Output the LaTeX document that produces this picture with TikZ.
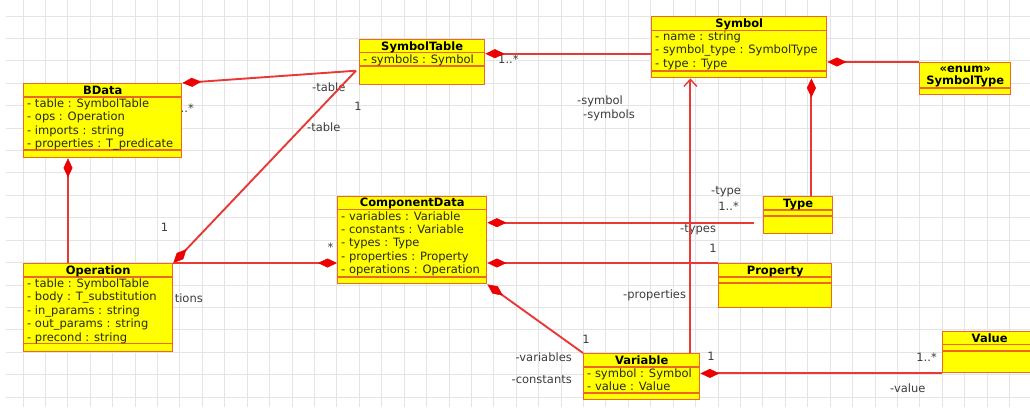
\documentclass[tikz,border=0pt]{standalone}
\usepackage{fontspec}
\setmainfont{DejaVu Sans}
\usetikzlibrary{arrows.meta,calc}
\definecolor{boxfill}{RGB}{255,255,0}
\definecolor{boxline}{RGB}{236,104,36}
\definecolor{assocred}{RGB}{232,56,56}
\definecolor{diared}{RGB}{236,0,0}
\definecolor{gridgray}{RGB}{228,228,228}
\definecolor{txt}{RGB}{40,40,40}
\definecolor{lbltext}{RGB}{60,60,60}
\newcommand\attrlist[3]{%
  \foreach \a [count=\i from 0] in {#3}{%
    \pgfmathsetmacro\dy{#2+13.4*\i}%
    \node[attr] (#1-a\i) at ([xshift=4pt,yshift=-\dy pt]#1.north west) {\a};}}
\begin{document}
\begin{tikzpicture}[x=1pt,y=-1pt,
  clsbox/.style={draw=boxline, fill=boxfill, line width=1.4pt, rectangle, inner sep=0pt, anchor=north west},
  sepline/.style={draw=boxline, line width=1.4pt},
  clstitle/.style={font=\bfseries\fontsize{11.5}{13}\selectfont, text=black, inner sep=0pt, anchor=base},
  attr/.style={font=\fontsize{11.5}{13}\selectfont, text=txt, inner sep=0pt, anchor=base west},
  lbl/.style={font=\fontsize{11.5}{13}\selectfont, text=lbltext, inner sep=0pt},
  gridline/.style={draw=gridgray, line width=0.9pt},
  assoc/.style={draw=assocred, line width=1.9pt},
  comp/.style={assoc, {Diamond[length=19pt,width=9pt,color=diared,line width=0.5pt]}-},
  nav/.style={assoc, -{Straight Barb[length=7pt,width=13pt,line width=1.4pt]}},
]
\useasboundingbox (0,0) rectangle (1030,407);
\clip (0,0) rectangle (1030,407);
\fill[white] (0,0) rectangle (1030,407);
% grid
\foreach \k in {0,...,44} \draw[gridline] (23+22.42*\k,0) -- (23+22.42*\k,407);
\foreach \k in {0,...,17} \draw[gridline] (6,16+22.42*\k) -- (1030,16+22.42*\k);

% labels
\node[lbl, anchor=base east] (l1) at (194,112) {..*};
\node[lbl, anchor=base west] (l2) at (312,91.5) {-table};
\node[lbl, anchor=base west] (l3) at (307,131) {-table};
\node[lbl, anchor=base] (l4) at (358,110) {1};
\node[lbl, anchor=base west] (l5) at (498,63) {1..*};
\node[lbl, anchor=base west] (l6) at (577,104) {-symbol};
\node[lbl, anchor=base west] (l7) at (583,118.5) {-symbols};
\node[lbl, anchor=base west] (l8) at (711,194.5) {-type};
\node[lbl, anchor=base east] (l9) at (739,210) {1..*};
\node[lbl, anchor=base west] (l10) at (680,232) {-types};
\node[lbl, anchor=base] (l11) at (713,252) {1};
\node[lbl, anchor=base west] (l12) at (623,298) {-properties};
\node[lbl, anchor=base] (l13) at (586,343) {1};
\node[lbl, anchor=base east] (l14) at (572,361.5) {-variables};
\node[lbl, anchor=base east] (l15) at (572,383) {-constants};
\node[lbl, anchor=base] (l16) at (711,360) {1};
\node[lbl, anchor=base east] (l17) at (937,361) {1..*};
\node[lbl, anchor=base west] (l18) at (890,392) {-value};
\node[lbl, anchor=base] (l19) at (164.5,231) {1};
\node[lbl, anchor=base] (l20) at (330.5,251) {*};
\node[lbl, anchor=base east] (l21) at (203,302.5) {tions};

% class boxes (outer shapes)
\node[clsbox, minimum width=158pt, minimum height=74pt] (bdata) at (23,83) {};
\node[clsbox, minimum width=125pt, minimum height=45pt] (symtab) at (359,39) {};
\node[clsbox, minimum width=175pt, minimum height=61pt] (sym) at (651,16) {};
\node[clsbox, minimum width=91pt, minimum height=32pt] (symtype) at (919,62) {};
\node[clsbox, minimum width=149pt, minimum height=88pt] (op) at (23,263) {};
\node[clsbox, minimum width=149pt, minimum height=87pt] (cd) at (337,196) {};
\node[clsbox, minimum width=116pt, minimum height=46pt] (var) at (583,353) {};
\node[clsbox, minimum width=69pt, minimum height=37pt] (type) at (763,196) {};
\node[clsbox, minimum width=113pt, minimum height=44pt] (prop) at (718,263) {};
\node[clsbox, minimum width=94pt, minimum height=41pt] (val) at (942,331) {};

% connectors
\coordinate (stabin) at ([xshift=-3pt,yshift=-8.5pt]symtab.west);
\coordinate (typeend) at ([xshift=-9pt,yshift=-7.5pt]type.west);
\draw[comp] (bdata.north east) -- (stabin);
\draw[comp] (op.north east) -- (stabin);
\draw[comp] ([xshift=45pt]bdata.south west) -- ([xshift=45pt]op.north west);
\draw[comp] (cd.west |- op.north east) -- (op.north east);
\draw[comp] (cd.east |- typeend) -- (typeend);
\draw[comp] (cd.east |- prop.north west) -- (prop.north west);
\draw[comp] (cd.south east) -- (var.north west);
\draw[nav] ([xshift=-10pt]var.north east) -- ([xshift=-10pt]var.north east |- sym.south);
\draw[comp] ([yshift=8.5pt]symtab.east) -- ([yshift=8.5pt]symtab.east -| sym.west);
\draw[comp] (sym.east |- symtype.north west) -- (symtype.north west);
\draw[comp] ([xshift=-16pt]sym.south east) -- ([xshift=-16pt]sym.south east |- type.north);
\draw[comp] (var.east |- val.south west) -- (val.south west);

% compartments and texts
% BData
\draw[sepline] ([yshift=-14pt]bdata.north west) -- ([yshift=-14pt]bdata.north east);
\draw[sepline] ([yshift=-67pt]bdata.north west) -- ([yshift=-67pt]bdata.north east);
\node[clstitle] (bdata-t) at ([yshift=-11pt]bdata.north) {BData};
\attrlist{bdata}{24.5}{- table : SymbolTable,- ops : Operation,- imports : string,- properties : T\_predicate}
% SymbolTable
\draw[sepline] ([yshift=-13.5pt]symtab.north west) -- ([yshift=-13.5pt]symtab.north east);
\draw[sepline] ([yshift=-27pt]symtab.north west) -- ([yshift=-27pt]symtab.north east);
\node[clstitle] (symtab-t) at ([yshift=-11pt]symtab.north) {SymbolTable};
\attrlist{symtab}{24}{- symbols : Symbol}
% Symbol
\draw[sepline] ([yshift=-14.5pt]sym.north west) -- ([yshift=-14.5pt]sym.north east);
\draw[sepline] ([yshift=-55pt]sym.north west) -- ([yshift=-55pt]sym.north east);
\node[clstitle] (sym-t) at ([yshift=-11pt]sym.north) {Symbol};
\attrlist{sym}{24.5}{- name : string,- symbol\_type : SymbolType,- type : Type}
% SymbolType
\draw[sepline] ([yshift=-26pt]symtype.north west) -- ([yshift=-26pt]symtype.north east);
\node[clstitle] (symtype-s) at ([yshift=-10pt]symtype.north) {«enum»};
\node[clstitle] (symtype-t) at ([yshift=-22.5pt]symtype.north) {SymbolType};
% Operation
\draw[sepline] ([yshift=-14pt]op.north west) -- ([yshift=-14pt]op.north east);
\draw[sepline] ([yshift=-80.5pt]op.north west) -- ([yshift=-80.5pt]op.north east);
\node[clstitle] (op-t) at ([yshift=-11pt]op.north) {Operation};
\attrlist{op}{24.5}{- table : SymbolTable,- body : T\_substitution,- in\_params : string,- out\_params : string,- precond : string}
% ComponentData
\draw[sepline] ([yshift=-13.5pt]cd.north west) -- ([yshift=-13.5pt]cd.north east);
\draw[sepline] ([yshift=-81pt]cd.north west) -- ([yshift=-81pt]cd.north east);
\node[clstitle] (cd-t) at ([yshift=-10.5pt]cd.north) {ComponentData};
\attrlist{cd}{24}{- variables : Variable,- constants : Variable,- types : Type,- properties : Property,- operations : Operation}
% Variable
\draw[sepline] ([yshift=-14pt]var.north west) -- ([yshift=-14pt]var.north east);
\draw[sepline] ([yshift=-40pt]var.north west) -- ([yshift=-40pt]var.north east);
\node[clstitle] (var-t) at ([yshift=-11pt]var.north) {Variable};
\attrlist{var}{24.5}{- symbol : Symbol,- value : Value}
% Type
\draw[sepline] ([yshift=-14pt]type.north west) -- ([yshift=-14pt]type.north east);
\draw[sepline] ([yshift=-20pt]type.north west) -- ([yshift=-20pt]type.north east);
\node[clstitle] (type-t) at ([yshift=-11pt]type.north) {Type};
% Property
\draw[sepline] ([yshift=-14pt]prop.north west) -- ([yshift=-14pt]prop.north east);
\draw[sepline] ([yshift=-20pt]prop.north west) -- ([yshift=-20pt]prop.north east);
\node[clstitle] (prop-t) at ([yshift=-11pt]prop.north) {Property};
% Value
\draw[sepline] ([yshift=-13.5pt]val.north west) -- ([yshift=-13.5pt]val.north east);
\draw[sepline] ([yshift=-20pt]val.north west) -- ([yshift=-20pt]val.north east);
\node[clstitle] (val-t) at ([yshift=-11pt]val.north) {Value};
\end{tikzpicture}
\end{document}
